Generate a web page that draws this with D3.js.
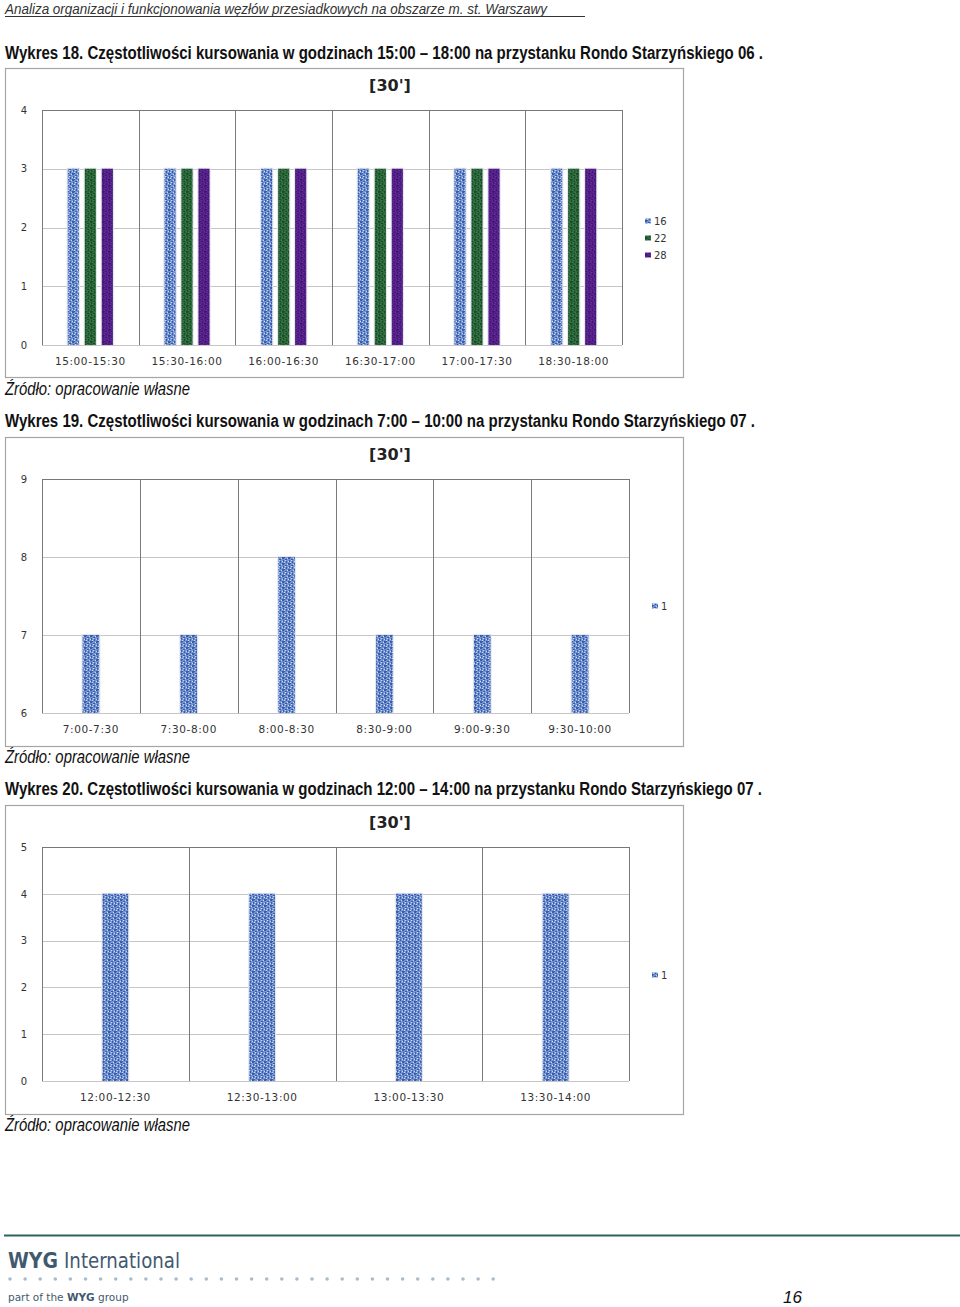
<!DOCTYPE html>
<html><head><meta charset="utf-8">
<script src="https://cdn.jsdelivr.net/npm/d3@7"></script>
<style>body{margin:0;background:#fff}svg{display:block}</style>
</head><body>
<script>
// ---- data ----
const header = "Analiza organizacji i funkcjonowania węzłów przesiadkowych na obszarze m. st. Warszawy";
const titles = [
  "Wykres 18. Częstotliwości kursowania  w godzinach 15:00 – 18:00 na przystanku Rondo Starzyńskiego 06 .",
  "Wykres 19. Częstotliwości kursowania  w godzinach 7:00 – 10:00 na przystanku Rondo Starzyńskiego 07 .",
  "Wykres 20. Częstotliwości kursowania  w godzinach 12:00 – 14:00 na przystanku Rondo Starzyńskiego 07 ."
];
const sourceText = "Źródło: opracowanie własne";
const chartTitle = "[30']";

const cats1 = ["15:00-15:30","15:30-16:00","16:00-16:30","16:30-17:00","17:00-17:30","18:30-18:00"];
const series1 = ["16","22","28"];
const vals16 = [3,3,3,3,3,3];
const vals22 = [3,3,3,3,3,3];
const vals28 = [3,3,3,3,3,3];
const ticks1 = [0,1,2,3,4];

const cats2 = ["7:00-7:30","7:30-8:00","8:00-8:30","8:30-9:00","9:00-9:30","9:30-10:00"];
const series2 = ["1"];
const vals2 = [7,7,8,7,7,7];
const ticks2 = [6,7,8,9];

const cats3 = ["12:00-12:30","12:30-13:00","13:00-13:30","13:30-14:00"];
const series3 = ["1"];
const vals3 = [4,4,4,4];
const ticks3 = [0,1,2,3,4,5];

// ---- drawing ----
const W = 960, H = 1307;
const svg = d3.select("body").append("svg").attr("width", W).attr("height", H);
const defs = svg.append("defs");

function makePattern(id, base, dark, light) {
  const p = defs.append("pattern").attr("id", id).attr("patternUnits","userSpaceOnUse")
    .attr("width", 6).attr("height", 6);
  p.append("rect").attr("width",6).attr("height",6).attr("fill", base);
  [[0,0,2,1,dark],[3,1,2,1,dark],[1,2,1,2,dark],[4,3,1,2,dark],[0,5,3,1,dark],[5,0,1,1,light],[2,4,1,1,light],[3,2,1,1,light],[0,3,1,1,light]]
    .forEach(([x,y,w,h,c]) => p.append("rect").attr("x",x).attr("y",y).attr("width",w).attr("height",h).attr("fill",c));
}
makePattern("pBlue", "#7495d4", "#3c5aa6", "#c9d9f3");
makePattern("pGreen", "#2b693a", "#1c4c28", "#3f8050");
makePattern("pPurple", "#57218c", "#441872", "#6c30a4");
const fills = {"16":"url(#pBlue)","22":"url(#pGreen)","28":"url(#pPurple)","1":"url(#pBlue)"};

const narrow = "'Liberation Sans Narrow','Arial Narrow','Liberation Sans',Arial,sans-serif";
const chartFont = "'DejaVu Sans',Verdana,sans-serif";
const brandFont = "'DejaVu Sans',Tahoma,sans-serif";

// header
svg.append("text").attr("x",5).attr("y",14).attr("font-family",narrow).attr("font-style","italic")
  .attr("font-size",15).attr("fill","#333").attr("textLength",542).attr("lengthAdjust","spacingAndGlyphs").text(header);
svg.append("line").attr("x1",5).attr("x2",585).attr("y1",16.5).attr("y2",16.5).attr("stroke","#333").attr("stroke-width",1);

function pageText(y, txt, len, italic) {
  svg.append("text").attr("x",5).attr("y",y).attr("font-family",narrow)
    .attr("font-style", italic ? "italic" : "normal")
    .attr("font-weight", italic ? "normal" : "bold")
    .attr("font-size",18).attr("fill","#111").attr("textLength",len).attr("lengthAdjust","spacingAndGlyphs").text(txt);
}

function chart(cfg) {
  const {top, cats, series, values, ticks, domain, plot, barRatio, groupStep, legendY} = cfg;
  // frame
  svg.append("rect").attr("x",5.5).attr("y",top+0.5).attr("width",678).attr("height",309)
    .attr("fill","#fff").attr("stroke","#a6a6a6").attr("stroke-width",1.2);
  svg.append("text").attr("x",390).attr("y",top+23).attr("text-anchor","middle").attr("font-family",chartFont)
    .attr("font-weight","bold").attr("font-size",16).attr("fill","#222").text(chartTitle);

  const x = d3.scaleBand().domain(cats).range([plot.left, plot.right]).padding(0);
  const y = d3.scaleLinear().domain(domain).range([plot.bottom, plot.top]);
  const g = svg.append("g");

  // horizontal gridlines
  g.selectAll(".hg").data(ticks).join("line")
    .attr("x1",plot.left).attr("x2",plot.right)
    .attr("y1",d=>Math.round(y(d))+0.5).attr("y2",d=>Math.round(y(d))+0.5)
    .attr("stroke",(d,i)=> i===ticks.length-1 ? "#777" : "#c6c6c6").attr("stroke-width",1);
  // vertical lines
  const vx = cats.map(c=>x(c)).concat([plot.right]);
  g.selectAll(".vg").data(vx).join("line")
    .attr("x1",d=>Math.round(d)+0.5).attr("x2",d=>Math.round(d)+0.5)
    .attr("y1",y(domain[1])).attr("y2",y(domain[0]))
    .attr("stroke","#7a7a7a").attr("stroke-width",1);

  // y tick labels
  const yAxis = d3.axisLeft(y).tickValues(ticks).tickFormat(d3.format("d")).tickSize(0).tickPadding(0);
  const ya = svg.append("g").attr("transform",`translate(${plot.left-18},0)`).call(yAxis);
  ya.select(".domain").remove();
  ya.selectAll("text").attr("font-family",chartFont).attr("font-size",10).attr("fill","#333")
    .attr("text-anchor","middle").attr("dy","0.32em");

  // x labels
  const xAxis = d3.axisBottom(x).tickSize(0).tickPadding(0);
  const xa = svg.append("g").attr("transform",`translate(0,${plot.bottom+20})`).call(xAxis);
  xa.select(".domain").remove();
  xa.selectAll("text").attr("font-family",chartFont).attr("font-size",10.5).attr("fill","#333")
    .attr("letter-spacing","0.6px").attr("dy","0");

  // bars
  const bw = x.bandwidth()*barRatio;
  const inner = d3.scaleBand().domain(series)
    .range([-(groupStep*(series.length-1))/2 - bw/2, (groupStep*(series.length-1))/2 + bw/2])
    .paddingInner(series.length>1 ? (groupStep-bw)/groupStep : 0).paddingOuter(0);
  const data = [];
  cats.forEach((c,i)=>series.forEach((s,j)=>data.push({c, s, v: values[j][i]})));
  const bars = svg.append("g");
  bars.selectAll(".halo").data(data).join("rect")
    .attr("x",d=>x(d.c)+x.bandwidth()/2+inner(d.s)-1.2)
    .attr("y",d=>y(d.v)-1).attr("width",inner.bandwidth()+2.4)
    .attr("height",d=>y(domain[0])-y(d.v)+1).attr("fill","#e3e7ee");
  bars.selectAll(".bar").data(data).join("rect")
    .attr("x",d=>x(d.c)+x.bandwidth()/2+inner(d.s))
    .attr("y",d=>y(d.v)).attr("width",inner.bandwidth())
    .attr("height",d=>y(domain[0])-y(d.v)).attr("fill",d=>fills[d.s]);

  // legend
  const lg = svg.append("g").attr("transform",`translate(645,${legendY})`);
  series.forEach((s,i)=>{
    const row = lg.append("g").attr("transform",`translate(0,${i*17})`);
    const off = s.length>1 ? 0 : 7;
    row.append("rect").attr("x",off).attr("y",-2.5).attr("width",6).attr("height",5).attr("fill",fills[s]);
    row.append("text").attr("x",off+9).attr("y",0).attr("dy","0.35em")
      .attr("font-family",chartFont).attr("font-size",10).attr("fill","#333").text(s);
  });
}

pageText(59, titles[0], 758, false);
chart({top:68, cats:cats1, series:series1, values:[vals16,vals22,vals28], ticks:ticks1, domain:[0,4],
  plot:{left:42, right:622, top:110, bottom:345}, barRatio:0.115, groupStep:17, legendY:221});
pageText(395, sourceText, 185, true);

pageText(427, titles[1], 750, false);
chart({top:437, cats:cats2, series:series2, values:[vals2], ticks:ticks2, domain:[6,9],
  plot:{left:42, right:629, top:479, bottom:713}, barRatio:0.17, groupStep:17, legendY:606});
pageText(763, sourceText, 185, true);

pageText(795, titles[2], 757, false);
chart({top:805, cats:cats3, series:series3, values:[vals3], ticks:ticks3, domain:[0,5],
  plot:{left:42, right:629, top:847, bottom:1081}, barRatio:0.175, groupStep:17, legendY:975});
pageText(1131, sourceText, 185, true);

// footer
svg.append("line").attr("x1",4).attr("x2",960).attr("y1",1235.5).attr("y2",1235.5).attr("stroke","#2e6360").attr("stroke-width",2);
function ftext(x, y, size, weight, len, txt) {
  svg.append("text").attr("x",x).attr("y",y).attr("font-family",brandFont).attr("font-size",size)
    .attr("font-weight",weight).attr("fill","#3f5a6f").attr("textLength",len).attr("lengthAdjust","spacingAndGlyphs").text(txt);
}
ftext(8, 1268, 21, "bold", 50, "WYG");
ftext(64, 1268, 21, "normal", 116, "International");
svg.append("g").selectAll("circle").data(d3.range(33)).join("circle")
  .attr("cx",d=>10+d*15.1).attr("cy",1279).attr("r",1.8).attr("fill","#a9bccb");
const part = svg.append("text").attr("x",8).attr("y",1301).attr("font-family",brandFont)
  .attr("font-size",10.5).attr("fill","#3f5a6f");
part.append("tspan").text("part of the ");
part.append("tspan").attr("font-weight","bold").text("WYG");
part.append("tspan").text(" group");
svg.append("text").attr("x",783).attr("y",1303).attr("font-family",narrow).attr("font-style","italic")
  .attr("font-size",17).attr("fill","#111").text("16");
</script>
</body></html>
